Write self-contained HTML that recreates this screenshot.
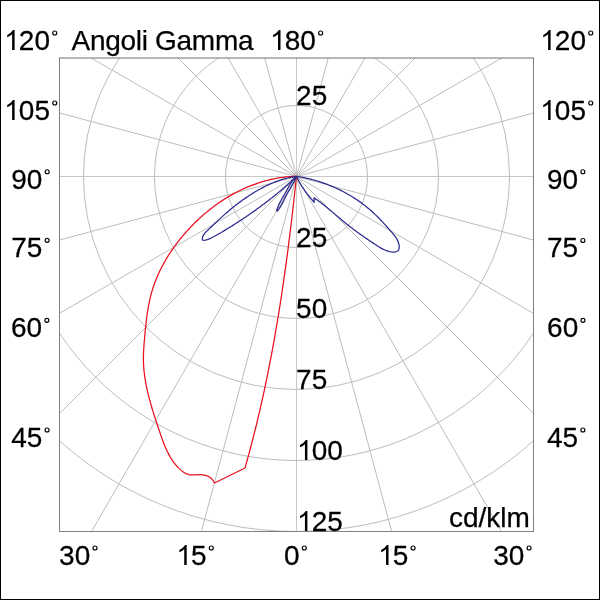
<!DOCTYPE html>
<html><head><meta charset="utf-8"><style>
html,body{margin:0;padding:0;background:#fff;width:600px;height:600px;overflow:hidden}
svg{display:block;will-change:transform}
text{font-family:"Liberation Sans",sans-serif;font-size:28px;fill:#000;stroke:#000;stroke-width:0.25}
.dg{fill:none;stroke:#000;stroke-width:1.15}
</style></head><body>
<svg width="600" height="600" viewBox="0 0 600 600">
<rect x="0.5" y="0.5" width="599" height="599" fill="#fff" stroke="#000" stroke-width="1"/>
<defs><clipPath id="c"><rect x="60" y="58" width="473" height="473"/></clipPath></defs>
<g clip-path="url(#c)" stroke="#bdbdbd" stroke-width="1" fill="none">
<line x1="296.5" y1="176.5" x2="1096.5" y2="176.5" stroke="#c8c8c8"/><line x1="296.5" y1="176.5" x2="1069.2" y2="383.6"/><line x1="296.5" y1="176.5" x2="989.3" y2="576.5"/><line x1="296.5" y1="176.5" x2="862.2" y2="742.2"/><line x1="296.5" y1="176.5" x2="696.5" y2="869.3"/><line x1="296.5" y1="176.5" x2="503.6" y2="949.2"/><line x1="296.5" y1="176.5" x2="296.5" y2="976.5" stroke="#c8c8c8"/><line x1="296.5" y1="176.5" x2="89.4" y2="949.2"/><line x1="296.5" y1="176.5" x2="-103.5" y2="869.3"/><line x1="296.5" y1="176.5" x2="-269.2" y2="742.2"/><line x1="296.5" y1="176.5" x2="-396.3" y2="576.5"/><line x1="296.5" y1="176.5" x2="-476.2" y2="383.6"/><line x1="296.5" y1="176.5" x2="-503.5" y2="176.5" stroke="#c8c8c8"/><line x1="296.5" y1="176.5" x2="-476.2" y2="-30.6"/><line x1="296.5" y1="176.5" x2="-396.3" y2="-223.5"/><line x1="296.5" y1="176.5" x2="-269.2" y2="-389.2"/><line x1="296.5" y1="176.5" x2="-103.5" y2="-516.3"/><line x1="296.5" y1="176.5" x2="89.4" y2="-596.2"/><line x1="296.5" y1="176.5" x2="296.5" y2="-623.5" stroke="#c8c8c8"/><line x1="296.5" y1="176.5" x2="503.6" y2="-596.2"/><line x1="296.5" y1="176.5" x2="696.5" y2="-516.3"/><line x1="296.5" y1="176.5" x2="862.2" y2="-389.2"/><line x1="296.5" y1="176.5" x2="989.3" y2="-223.5"/><line x1="296.5" y1="176.5" x2="1069.2" y2="-30.6"/>
<circle cx="296.5" cy="176.5" r="71"/><circle cx="296.5" cy="176.5" r="142"/><circle cx="296.5" cy="176.5" r="213"/><circle cx="296.5" cy="176.5" r="284"/><circle cx="296.5" cy="176.5" r="355"/>
</g>
<path d="M59.5,58 V531.5 M59,531.5 H534 M533.5,532 V58" fill="none" stroke="#808080" stroke-width="1"/>
<path d="M59,58 H534" stroke="#707070" stroke-width="1"/>
<g fill="none" stroke-width="1.25" stroke-linejoin="round">
<path d="M296.50,176.20 L294.97,176.25 L293.45,176.32 L291.93,176.40 L290.41,176.51 L288.90,176.63 L287.39,176.77 L285.88,176.92 L284.38,177.10 L282.88,177.29 L281.39,177.50 L279.90,177.73 L278.41,177.97 L276.93,178.23 L275.45,178.50 L273.97,178.80 L272.50,179.11 L271.04,179.43 L269.58,179.77 L268.12,180.13 L266.67,180.50 L265.22,180.89 L263.78,181.30 L262.34,181.72 L260.91,182.15 L259.48,182.60 L258.05,183.07 L256.64,183.55 L255.22,184.04 L253.82,184.55 L252.41,185.08 L251.02,185.62 L249.62,186.17 L248.24,186.74 L246.86,187.32 L245.48,187.92 L244.11,188.53 L242.75,189.15 L241.39,189.79 L240.04,190.44 L238.69,191.10 L237.35,191.78 L236.02,192.47 L234.69,193.17 L233.37,193.89 L232.06,194.62 L230.75,195.36 L229.45,196.11 L228.15,196.88 L226.86,197.65 L225.58,198.44 L224.31,199.25 L223.04,200.06 L221.78,200.89 L220.52,201.72 L219.27,202.57 L218.03,203.43 L216.80,204.30 L215.57,205.19 L214.36,206.08 L213.14,206.98 L211.94,207.90 L210.74,208.82 L209.56,209.76 L208.37,210.71 L207.20,211.66 L206.04,212.63 L204.88,213.61 L203.73,214.59 L202.59,215.59 L201.45,216.59 L200.33,217.61 L199.21,218.63 L198.10,219.67 L197.00,220.71 L195.91,221.76 L194.83,222.82 L193.75,223.89 L192.69,224.97 L191.63,226.05 L190.58,227.15 L189.54,228.25 L188.51,229.36 L187.49,230.48 L186.48,231.60 L185.47,232.74 L184.48,233.88 L183.49,235.03 L182.52,236.18 L181.55,237.35 L180.59,238.52 L179.65,239.69 L178.71,240.88 L177.78,242.07 L176.87,243.27 L175.96,244.47 L175.06,245.69 L174.18,246.91 L173.31,248.13 L172.44,249.36 L171.59,250.60 L170.75,251.85 L169.92,253.10 L169.10,254.36 L168.30,255.63 L167.51,256.90 L166.72,258.18 L165.96,259.47 L165.20,260.77 L164.46,262.07 L163.73,263.37 L163.01,264.69 L162.31,266.01 L161.62,267.33 L160.94,268.66 L160.28,270.00 L159.63,271.35 L158.99,272.70 L158.37,274.06 L157.76,275.43 L157.17,276.80 L156.60,278.17 L156.03,279.56 L155.49,280.95 L154.96,282.34 L154.44,283.75 L153.94,285.16 L153.46,286.57 L152.99,287.99 L152.54,289.42 L152.10,290.85 L151.68,292.29 L151.28,293.74 L150.89,295.19 L150.52,296.65 L150.17,298.11 L149.83,299.58 L149.50,301.05 L149.19,302.53 L148.89,304.01 L148.60,305.50 L148.33,306.99 L148.07,308.48 L147.82,309.98 L147.58,311.48 L147.35,312.98 L147.13,314.49 L146.92,315.99 L146.72,317.50 L146.53,319.02 L146.34,320.53 L146.16,322.05 L145.99,323.57 L145.83,325.08 L145.67,326.60 L145.51,328.12 L145.36,329.64 L145.21,331.16 L145.07,332.68 L144.93,334.20 L144.79,335.72 L144.65,337.23 L144.52,338.75 L144.39,340.27 L144.26,341.78 L144.14,343.29 L144.02,344.80 L143.91,346.31 L143.81,347.82 L143.72,349.32 L143.64,350.83 L143.57,352.33 L143.51,353.83 L143.47,355.33 L143.44,356.83 L143.43,358.32 L143.44,359.81 L143.46,361.30 L143.50,362.79 L143.57,364.28 L143.65,365.76 L143.74,367.25 L143.86,368.73 L143.99,370.21 L144.14,371.68 L144.30,373.16 L144.48,374.63 L144.67,376.10 L144.88,377.58 L145.10,379.04 L145.34,380.51 L145.59,381.98 L145.86,383.45 L146.13,384.91 L146.42,386.37 L146.73,387.84 L147.04,389.30 L147.37,390.76 L147.70,392.22 L148.05,393.68 L148.41,395.13 L148.77,396.59 L149.15,398.05 L149.54,399.50 L149.93,400.96 L150.33,402.41 L150.74,403.87 L151.16,405.32 L151.59,406.78 L152.02,408.23 L152.46,409.69 L152.91,411.14 L153.36,412.59 L153.81,414.05 L154.28,415.50 L154.74,416.96 L155.21,418.41 L155.69,419.86 L156.16,421.32 L156.64,422.77 L157.13,424.23 L157.61,425.69 L158.10,427.14 L158.59,428.60 L159.08,430.06 L159.57,431.52 L160.07,432.98 L160.56,434.43 L161.07,435.89 L161.57,437.34 L162.09,438.79 L162.61,440.23 L163.15,441.66 L163.69,443.09 L164.25,444.51 L164.83,445.91 L165.41,447.31 L166.02,448.69 L166.64,450.07 L167.28,451.42 L167.95,452.77 L168.63,454.09 L169.34,455.40 L170.07,456.69 L170.83,457.97 L171.61,459.22 L172.43,460.45 L173.27,461.66 L174.14,462.84 L175.05,464.00 L175.99,465.13 L176.96,466.24 L177.97,467.32 L179.02,468.37 L180.11,469.39 L181.24,470.37 L182.41,471.30 L183.62,472.16 L184.87,472.94 L186.18,473.60 L187.53,474.14 L188.93,474.55 L190.38,474.80 L191.87,474.91 L193.40,474.93 L194.94,474.89 L196.50,474.81 L198.06,474.74 L199.61,474.70 L201.14,474.73 L202.64,474.84 L204.11,475.05 L205.54,475.36 L206.91,475.79 L208.23,476.35 L209.48,477.06 L210.66,477.92 L211.76,478.95 L212.77,480.14 L213.68,481.49 L214.50,483.00 L245.00,468.00 L245.41,466.54 L245.83,465.08 L246.24,463.63 L246.64,462.17 L247.05,460.71 L247.46,459.25 L247.86,457.79 L248.26,456.33 L248.66,454.87 L249.05,453.41 L249.45,451.94 L249.84,450.48 L250.23,449.02 L250.62,447.55 L251.01,446.09 L251.39,444.63 L251.77,443.16 L252.16,441.70 L252.53,440.23 L252.91,438.76 L253.29,437.30 L253.66,435.83 L254.03,434.36 L254.40,432.90 L254.77,431.43 L255.13,429.96 L255.50,428.49 L255.86,427.02 L256.22,425.55 L256.58,424.08 L256.94,422.61 L257.29,421.14 L257.64,419.66 L257.99,418.19 L258.34,416.72 L258.69,415.25 L259.04,413.77 L259.38,412.30 L259.72,410.83 L260.06,409.35 L260.40,407.88 L260.74,406.40 L261.07,404.93 L261.41,403.45 L261.74,401.97 L262.07,400.50 L262.40,399.02 L262.72,397.54 L263.05,396.06 L263.37,394.59 L263.69,393.11 L264.01,391.63 L264.33,390.15 L264.65,388.67 L264.96,387.19 L265.28,385.71 L265.59,384.23 L265.90,382.75 L266.21,381.26 L266.51,379.78 L266.82,378.30 L267.12,376.82 L267.42,375.34 L267.72,373.85 L268.02,372.37 L268.32,370.89 L268.61,369.40 L268.91,367.92 L269.20,366.43 L269.49,364.95 L269.78,363.46 L270.07,361.98 L270.36,360.49 L270.64,359.00 L270.93,357.52 L271.21,356.03 L271.49,354.54 L271.77,353.06 L272.04,351.57 L272.32,350.08 L272.60,348.59 L272.87,347.10 L273.14,345.61 L273.41,344.12 L273.68,342.63 L273.95,341.14 L274.21,339.65 L274.48,338.16 L274.74,336.67 L275.00,335.18 L275.26,333.69 L275.52,332.20 L275.78,330.71 L276.04,329.22 L276.29,327.73 L276.55,326.23 L276.80,324.74 L277.05,323.25 L277.30,321.75 L277.55,320.26 L277.80,318.77 L278.04,317.27 L278.29,315.78 L278.53,314.29 L278.77,312.79 L279.01,311.30 L279.25,309.80 L279.49,308.31 L279.73,306.81 L279.97,305.32 L280.20,303.82 L280.43,302.32 L280.67,300.83 L280.90,299.33 L281.13,297.83 L281.36,296.34 L281.58,294.84 L281.81,293.34 L282.04,291.85 L282.26,290.35 L282.48,288.85 L282.70,287.35 L282.92,285.86 L283.14,284.36 L283.36,282.86 L283.58,281.36 L283.80,279.86 L284.01,278.36 L284.23,276.86 L284.44,275.37 L284.65,273.87 L284.86,272.37 L285.07,270.87 L285.28,269.37 L285.49,267.87 L285.69,266.37 L285.90,264.87 L286.11,263.37 L286.31,261.87 L286.51,260.37 L286.71,258.86 L286.91,257.36 L287.11,255.86 L287.31,254.36 L287.51,252.86 L287.71,251.36 L287.90,249.86 L288.10,248.36 L288.29,246.85 L288.49,245.35 L288.68,243.85 L288.87,242.35 L289.06,240.85 L289.25,239.34 L289.44,237.84 L289.62,236.34 L289.81,234.84 L290.00,233.33 L290.18,231.83 L290.37,230.33 L290.55,228.83 L290.73,227.32 L290.91,225.82 L291.10,224.32 L291.28,222.81 L291.46,221.31 L291.63,219.81 L291.81,218.30 L291.99,216.80 L292.16,215.30 L292.34,213.79 L292.51,212.29 L292.69,210.79 L292.86,209.28 L293.03,207.78 L293.21,206.28 L293.38,204.77 L293.55,203.27 L293.72,201.77 L293.89,200.26 L294.05,198.76 L294.22,197.25 L294.39,195.75 L294.56,194.25 L294.72,192.74 L294.89,191.24 L295.05,189.74 L295.21,188.23 L295.38,186.73 L295.54,185.22 L295.70,183.72 L295.86,182.22 L296.02,180.71 L296.18,179.21 L296.34,177.70 L296.50,176.20" stroke="#e8101c"/>
<path d="M296.50,176.30 L295.00,176.52 L293.51,176.77 L292.02,177.04 L290.54,177.34 L289.07,177.67 L287.60,178.01 L286.14,178.38 L284.69,178.78 L283.24,179.20 L281.80,179.63 L280.36,180.10 L278.94,180.58 L277.51,181.08 L276.10,181.60 L274.69,182.14 L273.29,182.71 L271.89,183.29 L270.50,183.89 L269.12,184.50 L267.75,185.14 L266.38,185.79 L265.02,186.45 L263.66,187.14 L262.31,187.84 L260.97,188.55 L259.64,189.28 L258.31,190.02 L256.99,190.77 L255.67,191.54 L254.36,192.32 L253.06,193.12 L251.77,193.92 L250.48,194.74 L249.20,195.56 L247.93,196.40 L246.67,197.25 L245.41,198.11 L244.16,198.97 L242.92,199.85 L241.69,200.74 L240.46,201.63 L239.24,202.53 L238.03,203.45 L236.83,204.36 L235.63,205.29 L234.45,206.22 L233.27,207.16 L232.10,208.11 L230.94,209.06 L229.79,210.02 L228.64,210.98 L227.51,211.95 L226.38,212.92 L225.26,213.90 L224.15,214.88 L223.05,215.87 L221.95,216.86 L220.86,217.86 L219.76,218.86 L218.67,219.88 L217.57,220.90 L216.46,221.93 L215.36,222.98 L214.24,224.03 L213.12,225.10 L211.98,226.17 L210.83,227.26 L209.67,228.37 L208.49,229.49 L207.30,230.62 L206.15,231.77 L205.07,232.95 L204.10,234.15 L203.30,235.38 L202.70,236.64 L202.35,237.94 L202.32,239.22 L202.77,240.11 L203.75,240.37 L205.06,240.21 L206.48,239.84 L207.90,239.37 L209.32,238.81 L210.73,238.18 L212.13,237.50 L213.52,236.78 L214.91,236.03 L216.28,235.26 L217.64,234.50 L218.99,233.73 L220.33,232.96 L221.65,232.19 L222.97,231.42 L224.27,230.64 L225.57,229.86 L226.86,229.08 L228.15,228.30 L229.43,227.51 L230.70,226.72 L231.97,225.93 L233.23,225.13 L234.49,224.33 L235.75,223.52 L237.01,222.71 L238.27,221.90 L239.53,221.07 L240.79,220.25 L242.04,219.42 L243.29,218.59 L244.55,217.75 L245.80,216.90 L247.04,216.06 L248.29,215.20 L249.54,214.35 L250.78,213.48 L252.02,212.62 L253.26,211.75 L254.49,210.87 L255.73,209.99 L256.96,209.10 L258.18,208.21 L259.41,207.32 L260.63,206.42 L261.85,205.52 L263.07,204.61 L264.28,203.70 L265.49,202.78 L266.70,201.86 L267.90,200.93 L269.10,200.00 L270.29,199.07 L271.48,198.13 L272.67,197.18 L273.85,196.23 L275.03,195.28 L276.21,194.32 L277.38,193.36 L278.54,192.39 L279.71,191.42 L280.86,190.44 L282.01,189.46 L283.16,188.48 L284.30,187.49 L285.44,186.49 L286.57,185.49 L287.70,184.49 L288.82,183.48 L289.93,182.47 L291.04,181.45 L292.15,180.43 L293.24,179.41 L294.34,178.38 L295.42,177.34 L296.50,176.30" stroke="#2c2a8c"/>
<path d="M296.50,176.30 L295.42,177.39 L294.39,178.54 L293.41,179.73 L292.48,180.96 L291.58,182.23 L290.72,183.52 L289.89,184.84 L289.09,186.18 L288.31,187.53 L287.55,188.89 L286.80,190.25 L286.07,191.60 L285.33,192.94 L284.60,194.27 L283.87,195.58 L283.12,196.87 L282.37,198.14 L281.62,199.43 L280.86,200.76 L280.11,202.15 L279.35,203.63 L278.61,205.23 L277.89,206.91 L277.28,208.53 L276.87,209.89 L276.75,210.82 L276.99,211.14 L277.58,210.75 L278.42,209.75 L279.41,208.33 L280.45,206.68 L281.44,204.98 L282.32,203.39 L283.09,201.91 L283.78,200.52 L284.42,199.19 L285.04,197.90 L285.66,196.63 L286.32,195.35 L287.02,194.05 L287.76,192.74 L288.52,191.41 L289.31,190.07 L290.11,188.72 L290.91,187.36 L291.71,185.99 L292.50,184.61 L293.26,183.23 L294.00,181.84 L294.70,180.45 L295.36,179.07 L295.96,177.68 L296.50,176.30" stroke="#2c2a8c"/>
<path d="M296.50,176.30 L297.98,176.53 L299.47,176.78 L300.95,177.05 L302.43,177.33 L303.91,177.63 L305.39,177.94 L306.87,178.27 L308.34,178.61 L309.81,178.97 L311.29,179.34 L312.75,179.73 L314.22,180.14 L315.68,180.56 L317.14,180.99 L318.59,181.44 L320.04,181.91 L321.49,182.38 L322.93,182.88 L324.37,183.39 L325.80,183.91 L327.23,184.45 L328.65,185.00 L330.07,185.57 L331.48,186.15 L332.88,186.74 L334.28,187.35 L335.68,187.97 L337.06,188.61 L338.44,189.26 L339.82,189.93 L341.18,190.61 L342.54,191.30 L343.89,192.00 L345.23,192.72 L346.57,193.46 L347.89,194.20 L349.21,194.96 L350.52,195.73 L351.82,196.52 L353.11,197.32 L354.39,198.13 L355.66,198.95 L356.92,199.79 L358.17,200.64 L359.41,201.51 L360.64,202.38 L361.86,203.27 L363.07,204.17 L364.27,205.08 L365.45,206.01 L366.62,206.95 L367.78,207.90 L368.93,208.86 L370.07,209.83 L371.19,210.82 L372.30,211.81 L373.40,212.82 L374.50,213.84 L375.58,214.88 L376.65,215.92 L377.71,216.98 L378.77,218.04 L379.82,219.12 L380.87,220.21 L381.91,221.31 L382.95,222.42 L383.99,223.55 L385.02,224.68 L386.06,225.83 L387.09,226.98 L388.12,228.15 L389.16,229.32 L390.20,230.51 L391.24,231.71 L392.28,232.92 L393.31,234.14 L394.32,235.39 L395.28,236.67 L396.17,237.99 L396.99,239.36 L397.70,240.77 L398.30,242.25 L398.77,243.74 L399.08,245.22 L399.22,246.64 L399.17,247.97 L398.91,249.16 L398.43,250.17 L397.70,250.96 L396.73,251.52 L395.57,251.88 L394.24,252.03 L392.78,252.02 L391.23,251.85 L389.64,251.54 L388.03,251.12 L386.44,250.61 L384.91,250.01 L383.44,249.35 L382.01,248.64 L380.64,247.88 L379.29,247.08 L377.98,246.25 L376.68,245.41 L375.39,244.57 L374.11,243.72 L372.84,242.87 L371.57,242.02 L370.30,241.17 L369.04,240.32 L367.79,239.47 L366.54,238.62 L365.29,237.76 L364.05,236.90 L362.82,236.04 L361.58,235.17 L360.36,234.30 L359.13,233.43 L357.91,232.55 L356.70,231.67 L355.49,230.78 L354.28,229.88 L353.08,228.98 L351.88,228.08 L350.69,227.16 L349.50,226.24 L348.31,225.31 L347.12,224.38 L345.94,223.43 L344.77,222.48 L343.59,221.51 L342.42,220.54 L341.26,219.57 L340.09,218.58 L338.93,217.60 L337.76,216.61 L336.60,215.62 L335.44,214.62 L334.28,213.63 L333.11,212.64 L331.95,211.64 L330.78,210.66 L329.61,209.67 L328.44,208.70 L327.26,207.73 L326.09,206.76 L324.90,205.81 L323.72,204.86 L322.52,203.93 L321.33,203.01 L320.12,202.10 L318.91,201.21 L317.70,200.33 L316.47,199.47 L315.24,198.62 L314.00,197.80 L314.20,202.30 L313.17,201.10 L312.14,199.90 L311.12,198.69 L310.11,197.48 L309.11,196.25 L308.12,195.02 L307.15,193.78 L306.19,192.52 L305.25,191.26 L304.33,189.98 L303.43,188.69 L302.55,187.38 L301.69,186.06 L300.86,184.72 L300.06,183.36 L299.29,181.99 L298.54,180.60 L297.83,179.19 L297.15,177.75 L296.50,176.30" stroke="#2c2a8c"/>
</g>
<g fill="#000">
<path d="M14.60,50.00 L12.14,50.00 L12.14,34.32 Q9.97,36.20 7.22,37.29 L7.22,34.91 Q10.97,33.10 13.02,29.88 L14.60,29.88 Z"/>
<text x="18.87 34.44" y="50" transform="translate(0,50) scale(1,1.015) translate(0,-50)">20</text>
<circle class="dg" cx="54.74" cy="33.00" r="2.0"/>
<text x="71.6" y="50" letter-spacing="-0.3">Angoli Gamma</text>
<path d="M280.50,50.00 L278.04,50.00 L278.04,34.32 Q275.87,36.20 273.12,37.29 L273.12,34.91 Q276.87,33.10 278.92,29.88 L280.50,29.88 Z"/>
<text x="284.77 300.34" y="50" transform="translate(0,50) scale(1,1.015) translate(0,-50)">80</text>
<circle class="dg" cx="320.64" cy="33.00" r="2.0"/>
<path d="M550.60,50.00 L548.14,50.00 L548.14,34.32 Q545.97,36.20 543.22,37.29 L543.22,34.91 Q546.97,33.10 549.02,29.88 L550.60,29.88 Z"/>
<text x="554.87 570.44" y="50" transform="translate(0,50) scale(1,1.015) translate(0,-50)">20</text>
<circle class="dg" cx="590.74" cy="33.00" r="2.0"/>
<path d="M14.60,120.00 L12.14,120.00 L12.14,104.32 Q9.97,106.20 7.22,107.29 L7.22,104.91 Q10.97,103.10 13.02,99.88 L14.60,99.88 Z"/>
<text x="18.87 34.44" y="120" transform="translate(0,120) scale(1,1.015) translate(0,-120)">05</text>
<circle class="dg" cx="54.74" cy="103.00" r="2.0"/>
<path d="M550.60,120.00 L548.14,120.00 L548.14,104.32 Q545.97,106.20 543.22,107.29 L543.22,104.91 Q546.97,103.10 549.02,99.88 L550.60,99.88 Z"/>
<text x="554.87 570.44" y="120" transform="translate(0,120) scale(1,1.015) translate(0,-120)">05</text>
<circle class="dg" cx="590.74" cy="103.00" r="2.0"/>
<text x="11.30 26.87" y="188.7" transform="translate(0,188.7) scale(1,1.015) translate(0,-188.7)">90</text>
<circle class="dg" cx="47.17" cy="171.70" r="2.0"/>
<text x="547.00 562.57" y="188.7" transform="translate(0,188.7) scale(1,1.015) translate(0,-188.7)">90</text>
<circle class="dg" cx="582.87" cy="171.70" r="2.0"/>
<text x="11.30 26.87" y="257.3" transform="translate(0,257.3) scale(1,1.015) translate(0,-257.3)">75</text>
<circle class="dg" cx="47.17" cy="240.30" r="2.0"/>
<text x="547.00 562.57" y="257.5" transform="translate(0,257.5) scale(1,1.015) translate(0,-257.5)">75</text>
<circle class="dg" cx="582.87" cy="240.50" r="2.0"/>
<text x="11.00 26.57" y="337.3" transform="translate(0,337.3) scale(1,1.015) translate(0,-337.3)">60</text>
<circle class="dg" cx="46.87" cy="320.30" r="2.0"/>
<text x="547.10 562.67" y="337.3" transform="translate(0,337.3) scale(1,1.015) translate(0,-337.3)">60</text>
<circle class="dg" cx="582.97" cy="320.30" r="2.0"/>
<text x="11.20 26.77" y="447" transform="translate(0,447) scale(1,1.015) translate(0,-447)">45</text>
<circle class="dg" cx="47.07" cy="430.00" r="2.0"/>
<text x="547.00 562.57" y="447" transform="translate(0,447) scale(1,1.015) translate(0,-447)">45</text>
<circle class="dg" cx="582.87" cy="430.00" r="2.0"/>
<text x="59.10 74.67" y="565" transform="translate(0,565) scale(1,1.015) translate(0,-565)">30</text>
<circle class="dg" cx="94.97" cy="548.00" r="2.0"/>
<path d="M186.70,565.00 L184.24,565.00 L184.24,549.32 Q182.07,551.20 179.32,552.29 L179.32,549.91 Q183.07,548.10 185.12,544.88 L186.70,544.88 Z"/>
<text x="190.97" y="565" transform="translate(0,565) scale(1,1.015) translate(0,-565)">5</text>
<circle class="dg" cx="211.27" cy="548.00" r="2.0"/>
<text x="284.00" y="565" transform="translate(0,565) scale(1,1.015) translate(0,-565)">0</text>
<circle class="dg" cx="304.30" cy="548.00" r="2.0"/>
<path d="M388.50,565.00 L386.04,565.00 L386.04,549.32 Q383.87,551.20 381.12,552.29 L381.12,549.91 Q384.87,548.10 386.92,544.88 L388.50,544.88 Z"/>
<text x="392.77" y="565" transform="translate(0,565) scale(1,1.015) translate(0,-565)">5</text>
<circle class="dg" cx="413.07" cy="548.00" r="2.0"/>
<text x="493.20 508.77" y="565" transform="translate(0,565) scale(1,1.015) translate(0,-565)">30</text>
<circle class="dg" cx="529.07" cy="548.00" r="2.0"/>
<text x="296.10 311.67" y="105" transform="translate(0,105) scale(1,1.015) translate(0,-105)">25</text>
<text x="296.10 311.67" y="247" transform="translate(0,247) scale(1,1.015) translate(0,-247)">25</text>
<text x="296.10 311.67" y="318" transform="translate(0,318) scale(1,1.015) translate(0,-318)">50</text>
<text x="296.10 311.67" y="389" transform="translate(0,389) scale(1,1.015) translate(0,-389)">75</text>
<path d="M307.40,460.00 L304.94,460.00 L304.94,444.32 Q302.77,446.20 300.02,447.29 L300.02,444.91 Q303.77,443.10 305.82,439.88 L307.40,439.88 Z"/>
<text x="311.67 327.24" y="460" transform="translate(0,460) scale(1,1.015) translate(0,-460)">00</text>
<path d="M307.40,531.00 L304.94,531.00 L304.94,515.32 Q302.77,517.20 300.02,518.29 L300.02,515.91 Q303.77,514.10 305.82,510.88 L307.40,510.88 Z"/>
<text x="311.67 327.24" y="531" transform="translate(0,531) scale(1,1.015) translate(0,-531)">25</text>
<text x="449" y="526.5">cd/klm</text>
</g>
</svg>
</body></html>
